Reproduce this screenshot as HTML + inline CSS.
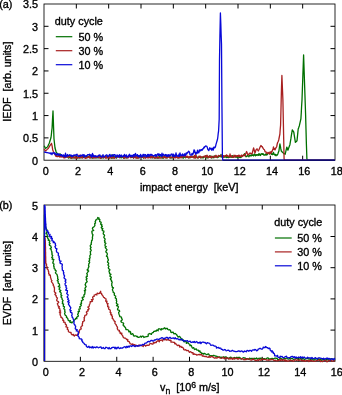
<!DOCTYPE html>
<html><head><meta charset="utf-8"><style>
html,body{margin:0;padding:0;background:#fff;width:342px;height:395px;overflow:hidden}
svg{display:block;will-change:transform}
text{font-family:"Liberation Sans", sans-serif;font-size:11.2px;fill:#000;stroke:#000;stroke-width:0.35px}
</style></head><body>
<svg width="342" height="395" viewBox="0 0 342 395">
<rect width="342" height="395" fill="#fff"/>
<rect x="44" y="4" width="291" height="156.2" fill="none" stroke="#000" stroke-width="0.85"/>
<line x1="76.33" y1="160.2" x2="76.33" y2="155.7" stroke="#000" stroke-width="1"/>
<line x1="76.33" y1="4" x2="76.33" y2="8.5" stroke="#000" stroke-width="1"/>
<line x1="108.67" y1="160.2" x2="108.67" y2="155.7" stroke="#000" stroke-width="1"/>
<line x1="108.67" y1="4" x2="108.67" y2="8.5" stroke="#000" stroke-width="1"/>
<line x1="141.00" y1="160.2" x2="141.00" y2="155.7" stroke="#000" stroke-width="1"/>
<line x1="141.00" y1="4" x2="141.00" y2="8.5" stroke="#000" stroke-width="1"/>
<line x1="173.33" y1="160.2" x2="173.33" y2="155.7" stroke="#000" stroke-width="1"/>
<line x1="173.33" y1="4" x2="173.33" y2="8.5" stroke="#000" stroke-width="1"/>
<line x1="205.67" y1="160.2" x2="205.67" y2="155.7" stroke="#000" stroke-width="1"/>
<line x1="205.67" y1="4" x2="205.67" y2="8.5" stroke="#000" stroke-width="1"/>
<line x1="238.00" y1="160.2" x2="238.00" y2="155.7" stroke="#000" stroke-width="1"/>
<line x1="238.00" y1="4" x2="238.00" y2="8.5" stroke="#000" stroke-width="1"/>
<line x1="270.33" y1="160.2" x2="270.33" y2="155.7" stroke="#000" stroke-width="1"/>
<line x1="270.33" y1="4" x2="270.33" y2="8.5" stroke="#000" stroke-width="1"/>
<line x1="302.67" y1="160.2" x2="302.67" y2="155.7" stroke="#000" stroke-width="1"/>
<line x1="302.67" y1="4" x2="302.67" y2="8.5" stroke="#000" stroke-width="1"/>
<line x1="44" y1="137.89" x2="48.5" y2="137.89" stroke="#000" stroke-width="1"/>
<line x1="335" y1="137.89" x2="330.5" y2="137.89" stroke="#000" stroke-width="1"/>
<line x1="44" y1="115.57" x2="48.5" y2="115.57" stroke="#000" stroke-width="1"/>
<line x1="335" y1="115.57" x2="330.5" y2="115.57" stroke="#000" stroke-width="1"/>
<line x1="44" y1="93.26" x2="48.5" y2="93.26" stroke="#000" stroke-width="1"/>
<line x1="335" y1="93.26" x2="330.5" y2="93.26" stroke="#000" stroke-width="1"/>
<line x1="44" y1="70.94" x2="48.5" y2="70.94" stroke="#000" stroke-width="1"/>
<line x1="335" y1="70.94" x2="330.5" y2="70.94" stroke="#000" stroke-width="1"/>
<line x1="44" y1="48.63" x2="48.5" y2="48.63" stroke="#000" stroke-width="1"/>
<line x1="335" y1="48.63" x2="330.5" y2="48.63" stroke="#000" stroke-width="1"/>
<line x1="44" y1="26.31" x2="48.5" y2="26.31" stroke="#000" stroke-width="1"/>
<line x1="335" y1="26.31" x2="330.5" y2="26.31" stroke="#000" stroke-width="1"/>
<text transform="translate(45.70,175.35) scale(0.966,1)" text-anchor="middle" >0</text>
<text transform="translate(78.03,175.35) scale(0.966,1)" text-anchor="middle" >2</text>
<text transform="translate(110.37,175.35) scale(0.966,1)" text-anchor="middle" >4</text>
<text transform="translate(142.70,175.35) scale(0.966,1)" text-anchor="middle" >6</text>
<text transform="translate(175.03,175.35) scale(0.966,1)" text-anchor="middle" >8</text>
<text transform="translate(207.37,175.35) scale(0.966,1)" text-anchor="middle" >10</text>
<text transform="translate(239.70,175.35) scale(0.966,1)" text-anchor="middle" >12</text>
<text transform="translate(272.03,175.35) scale(0.966,1)" text-anchor="middle" >14</text>
<text transform="translate(304.37,175.35) scale(0.966,1)" text-anchor="middle" >16</text>
<text transform="translate(336.70,175.35) scale(0.966,1)" text-anchor="middle" >18</text>
<text transform="translate(38.0,164.60) scale(0.966,1)" text-anchor="end" >0</text>
<text transform="translate(38.0,142.29) scale(0.966,1)" text-anchor="end" >0.5</text>
<text transform="translate(38.0,119.97) scale(0.966,1)" text-anchor="end" >1</text>
<text transform="translate(38.0,97.66) scale(0.966,1)" text-anchor="end" >1.5</text>
<text transform="translate(38.0,75.34) scale(0.966,1)" text-anchor="end" >2</text>
<text transform="translate(38.0,53.03) scale(0.966,1)" text-anchor="end" >2.5</text>
<text transform="translate(38.0,30.71) scale(0.966,1)" text-anchor="end" >3</text>
<text transform="translate(38.0,8.40) scale(0.966,1)" text-anchor="end" >3.5</text>
<text transform="translate(189.2,191.3) scale(0.966,1)" text-anchor="middle" >impact energy&#160;&#160;[keV]</text>
<text transform="translate(11.2,81.7) rotate(-90) scale(0.956,1)" text-anchor="middle">IEDF&#160;&#160;[arb. units]</text>
<text transform="translate(-0.8,8.4) scale(0.966,1)" text-anchor="start" >(a)</text>
<text transform="translate(54.8,24.8) scale(0.966,1)" text-anchor="start" >duty cycle</text>
<line x1="55.8" y1="36.7" x2="72.3" y2="36.7" stroke="#007000" stroke-width="1.2"/>
<text transform="translate(78.4,41.1) scale(0.966,1)" text-anchor="start" >50 %</text>
<line x1="55.8" y1="50.7" x2="72.3" y2="50.7" stroke="#a82020" stroke-width="1.2"/>
<text transform="translate(78.4,55.1) scale(0.966,1)" text-anchor="start" >30 %</text>
<line x1="55.8" y1="64.7" x2="72.3" y2="64.7" stroke="#0808d8" stroke-width="1.2"/>
<text transform="translate(78.4,69.1) scale(0.966,1)" text-anchor="start" >10 %</text>
<rect x="44" y="205.0" width="291" height="156.3" fill="none" stroke="#000" stroke-width="0.85"/>
<line x1="80.38" y1="361.3" x2="80.38" y2="356.8" stroke="#000" stroke-width="1"/>
<line x1="80.38" y1="205.0" x2="80.38" y2="209.5" stroke="#000" stroke-width="1"/>
<line x1="116.75" y1="361.3" x2="116.75" y2="356.8" stroke="#000" stroke-width="1"/>
<line x1="116.75" y1="205.0" x2="116.75" y2="209.5" stroke="#000" stroke-width="1"/>
<line x1="153.12" y1="361.3" x2="153.12" y2="356.8" stroke="#000" stroke-width="1"/>
<line x1="153.12" y1="205.0" x2="153.12" y2="209.5" stroke="#000" stroke-width="1"/>
<line x1="189.50" y1="361.3" x2="189.50" y2="356.8" stroke="#000" stroke-width="1"/>
<line x1="189.50" y1="205.0" x2="189.50" y2="209.5" stroke="#000" stroke-width="1"/>
<line x1="225.88" y1="361.3" x2="225.88" y2="356.8" stroke="#000" stroke-width="1"/>
<line x1="225.88" y1="205.0" x2="225.88" y2="209.5" stroke="#000" stroke-width="1"/>
<line x1="262.25" y1="361.3" x2="262.25" y2="356.8" stroke="#000" stroke-width="1"/>
<line x1="262.25" y1="205.0" x2="262.25" y2="209.5" stroke="#000" stroke-width="1"/>
<line x1="298.62" y1="361.3" x2="298.62" y2="356.8" stroke="#000" stroke-width="1"/>
<line x1="298.62" y1="205.0" x2="298.62" y2="209.5" stroke="#000" stroke-width="1"/>
<line x1="44" y1="330.10" x2="48.5" y2="330.10" stroke="#000" stroke-width="1"/>
<line x1="335" y1="330.10" x2="330.5" y2="330.10" stroke="#000" stroke-width="1"/>
<line x1="44" y1="298.90" x2="48.5" y2="298.90" stroke="#000" stroke-width="1"/>
<line x1="335" y1="298.90" x2="330.5" y2="298.90" stroke="#000" stroke-width="1"/>
<line x1="44" y1="267.70" x2="48.5" y2="267.70" stroke="#000" stroke-width="1"/>
<line x1="335" y1="267.70" x2="330.5" y2="267.70" stroke="#000" stroke-width="1"/>
<line x1="44" y1="236.50" x2="48.5" y2="236.50" stroke="#000" stroke-width="1"/>
<line x1="335" y1="236.50" x2="330.5" y2="236.50" stroke="#000" stroke-width="1"/>
<text transform="translate(45.70,376.35) scale(0.966,1)" text-anchor="middle" >0</text>
<text transform="translate(82.08,376.35) scale(0.966,1)" text-anchor="middle" >2</text>
<text transform="translate(118.45,376.35) scale(0.966,1)" text-anchor="middle" >4</text>
<text transform="translate(154.82,376.35) scale(0.966,1)" text-anchor="middle" >6</text>
<text transform="translate(191.20,376.35) scale(0.966,1)" text-anchor="middle" >8</text>
<text transform="translate(227.57,376.35) scale(0.966,1)" text-anchor="middle" >10</text>
<text transform="translate(263.95,376.35) scale(0.966,1)" text-anchor="middle" >12</text>
<text transform="translate(300.32,376.35) scale(0.966,1)" text-anchor="middle" >14</text>
<text transform="translate(336.70,376.35) scale(0.966,1)" text-anchor="middle" >16</text>
<text transform="translate(38.0,365.70) scale(0.966,1)" text-anchor="end" >0</text>
<text transform="translate(38.0,334.50) scale(0.966,1)" text-anchor="end" >1</text>
<text transform="translate(38.0,303.30) scale(0.966,1)" text-anchor="end" >2</text>
<text transform="translate(38.0,272.10) scale(0.966,1)" text-anchor="end" >3</text>
<text transform="translate(38.0,240.90) scale(0.966,1)" text-anchor="end" >4</text>
<text transform="translate(38.0,209.70) scale(0.966,1)" text-anchor="end" >5</text>
<text transform="translate(160,391.2) scale(0.966,1)">v<tspan font-size="9" dy="2.6">n</tspan><tspan dy="-2.6">&#160;&#160;[10</tspan><tspan font-size="9" dy="-3.6">6</tspan><tspan dy="3.6"> m/s]</tspan></text>
<text transform="translate(11.3,283.2) rotate(-90) scale(0.956,1)" text-anchor="middle">EVDF&#160;&#160;[arb. units]</text>
<text transform="translate(-0.8,209.2) scale(0.966,1)" text-anchor="start" >(b)</text>
<text transform="translate(274.2,226.3) scale(0.966,1)" text-anchor="start" >duty cycle</text>
<line x1="274.9" y1="238.0" x2="291.7" y2="238.0" stroke="#007000" stroke-width="1.2"/>
<text transform="translate(297.2,242.1) scale(0.966,1)" text-anchor="start" >50 %</text>
<line x1="274.9" y1="251.9" x2="291.7" y2="251.9" stroke="#a82020" stroke-width="1.2"/>
<text transform="translate(297.2,256.0) scale(0.966,1)" text-anchor="start" >30 %</text>
<line x1="274.9" y1="265.8" x2="291.7" y2="265.8" stroke="#0808d8" stroke-width="1.2"/>
<text transform="translate(297.2,269.9) scale(0.966,1)" text-anchor="start" >10 %</text>
<polyline fill="none" stroke="#007000" stroke-width="1.3" stroke-linejoin="round" points="44.2,145.8 44.7,146.7 45.1,147.5 45.6,148.4 46.0,148.0 46.5,147.6 46.9,147.3 47.4,146.9 47.8,146.5 48.2,145.5 48.6,144.5 49.1,143.5 49.5,142.5 50.0,140.8 50.5,139.2 51.0,137.5 51.4,134.3 51.7,131.2 52.1,128.0 52.5,119.5 53.0,111.0 53.3,119.5 53.6,128.0 54.0,139.0 54.5,143.5 55.0,148.0 55.4,149.3 55.8,150.7 56.2,152.0 56.6,152.7 57.1,153.3 57.5,154.0 58.0,154.4 58.5,155.8 59.0,154.9 59.5,155.6 60.0,153.7 60.5,155.3 61.0,154.7 61.5,155.9 62.0,156.1 62.5,156.5 63.0,156.3 63.5,156.9 64.0,155.9 64.5,157.4 65.0,155.6 65.5,157.1 66.0,156.6 66.5,156.9 67.0,156.1 67.5,156.3 68.0,157.6 68.5,158.1 69.0,156.7 69.5,154.8 70.0,158.0 70.5,158.1 71.0,156.3 71.5,156.2 72.0,156.5 72.5,158.0 73.0,156.3 73.5,157.0 74.0,158.2 74.5,157.3 75.0,157.6 75.5,156.8 76.0,157.6 76.5,157.9 77.0,157.3 77.5,157.7 78.0,158.3 78.5,157.1 79.0,156.7 79.5,157.8 80.0,156.3 80.5,157.1 81.0,158.1 81.5,156.7 82.0,156.7 82.5,156.4 83.0,156.0 83.5,157.6 84.0,156.5 84.5,156.7 85.0,157.2 85.5,156.2 86.0,157.3 86.5,156.4 87.0,157.4 87.5,157.6 88.0,156.3 88.5,157.0 89.0,157.6 89.5,155.3 90.0,156.2 90.5,157.2 91.0,157.5 91.5,157.2 92.0,158.1 92.5,157.4 93.0,158.1 93.5,156.4 94.0,156.4 94.5,157.8 95.0,156.9 95.5,157.4 96.0,158.1 96.5,156.8 97.0,157.7 97.5,157.7 98.0,158.0 98.5,157.4 99.0,157.7 99.5,156.8 100.0,156.6 100.5,158.0 101.0,157.0 101.5,158.2 102.0,155.8 102.5,157.6 103.0,156.4 103.5,158.1 104.0,157.0 104.5,157.3 105.0,156.9 105.5,156.6 106.0,158.0 106.5,157.3 107.0,156.0 107.5,157.4 108.0,156.8 108.5,156.5 109.0,158.0 109.5,156.8 110.0,158.0 110.5,157.4 111.0,156.1 111.5,158.1 112.0,154.6 112.5,158.2 113.0,156.4 113.5,156.3 114.0,158.1 114.5,157.6 115.0,156.2 115.5,157.7 116.0,157.7 116.5,158.1 117.0,157.6 117.5,156.3 118.0,156.1 118.5,156.1 119.0,156.1 119.5,157.0 120.0,157.9 120.5,157.2 121.0,155.9 121.5,157.9 122.0,156.3 122.5,156.6 123.0,157.3 123.5,158.2 124.0,155.4 124.5,156.1 125.0,157.8 125.5,156.5 126.0,157.8 126.5,156.9 127.0,157.9 127.5,157.7 128.0,157.2 128.5,156.3 129.0,156.1 129.5,156.3 130.0,156.1 130.5,156.2 131.0,156.5 131.5,157.6 132.0,157.2 132.5,156.0 133.0,156.2 133.5,158.1 134.0,157.3 134.5,156.4 135.0,156.6 135.5,157.6 136.0,156.4 136.5,157.3 137.0,158.1 137.5,157.9 138.0,156.5 138.5,156.1 139.0,155.9 139.5,157.8 140.0,156.3 140.5,156.3 141.0,156.1 141.5,157.1 142.0,157.3 142.5,157.2 143.0,156.7 143.5,158.2 144.0,157.3 144.5,156.8 145.0,157.2 145.5,157.6 146.0,157.5 146.5,156.6 147.0,156.1 147.5,156.8 148.0,157.4 148.5,156.4 149.0,157.6 149.5,156.1 150.0,156.5 150.5,157.7 151.0,156.4 151.5,157.4 152.0,157.1 152.5,158.0 153.0,156.6 153.5,156.1 154.0,157.6 154.5,157.7 155.0,158.0 155.5,158.0 156.0,156.0 156.5,156.5 157.0,158.2 157.5,158.1 158.0,158.1 158.5,157.2 159.0,158.0 159.5,155.8 160.0,156.8 160.5,157.0 161.0,157.3 161.5,157.2 162.0,158.0 162.5,158.0 163.0,157.4 163.5,158.1 164.0,156.3 164.5,156.2 165.0,156.6 165.5,157.1 166.0,157.8 166.5,158.0 167.0,157.8 167.5,156.0 168.0,155.8 168.5,156.7 169.0,156.2 169.5,157.7 170.0,156.7 170.5,158.0 171.0,157.2 171.5,157.9 172.0,157.8 172.5,157.9 173.0,157.0 173.5,157.1 174.0,155.4 174.5,156.6 175.0,157.0 175.5,157.3 176.0,156.0 176.5,157.2 177.0,156.9 177.5,157.7 178.0,157.9 178.5,157.9 179.0,157.2 179.5,156.3 180.0,157.7 180.5,157.3 181.0,156.0 181.5,156.9 182.0,157.4 182.5,157.9 183.0,155.9 183.5,158.1 184.0,156.8 184.5,154.6 185.0,157.3 185.5,157.7 186.0,157.2 186.5,157.3 187.0,156.5 187.5,157.2 188.0,157.6 188.5,157.8 189.0,157.6 189.5,157.5 190.0,157.8 190.5,156.6 191.0,157.4 191.5,156.9 192.0,156.8 192.5,156.8 193.0,156.8 193.5,156.6 194.0,157.3 194.5,156.9 195.0,158.1 195.5,157.4 196.0,156.3 196.5,156.8 197.0,156.7 197.5,157.7 198.0,157.8 198.5,157.9 199.0,157.4 199.5,156.5 200.0,156.5 200.5,157.8 201.0,157.0 201.5,157.6 202.0,157.1 202.5,157.5 203.0,158.0 203.5,157.6 204.0,157.1 204.5,156.9 205.0,156.6 205.5,156.0 206.0,156.7 206.5,156.0 207.0,158.0 207.5,156.2 208.0,157.6 208.5,157.7 209.0,156.4 209.5,157.0 210.0,155.7 210.5,156.8 211.0,156.5 211.5,158.0 212.0,157.1 212.5,156.4 213.0,157.8 213.5,157.7 214.0,156.3 214.5,156.0 215.0,156.1 215.5,156.8 216.0,157.3 216.5,156.2 217.0,156.2 217.5,157.6 218.0,156.6 218.5,157.0 219.0,156.2 219.5,155.9 220.0,156.8 220.5,156.7 221.0,154.4 221.5,157.0 222.0,156.1 222.5,157.1 223.0,155.9 223.5,157.3 224.0,156.1 224.5,156.7 225.0,157.3 225.5,155.6 226.0,156.3 226.5,157.5 227.0,157.4 227.5,156.7 228.0,157.5 228.5,157.6 229.0,157.4 229.5,157.4 230.0,155.7 230.5,157.0 231.0,157.1 231.5,156.8 232.0,157.3 232.5,155.6 233.0,157.2 233.5,157.1 234.0,156.0 234.5,156.0 235.0,156.9 235.5,156.2 236.0,157.2 236.5,156.4 237.0,157.2 237.5,157.6 238.0,156.1 238.5,155.7 239.0,157.4 239.5,156.6 240.0,157.5 240.5,156.8 241.0,157.5 241.5,156.5 242.0,156.4 242.5,155.5 243.0,155.9 243.5,155.2 244.0,155.4 244.5,153.6 245.0,155.1 245.5,155.7 246.0,156.8 246.5,156.4 247.0,156.3 247.5,155.2 248.0,155.7 248.5,156.0 249.0,156.8 249.5,155.1 250.0,155.1 250.5,155.1 251.0,156.1 251.5,155.4 252.0,154.5 252.5,155.4 253.0,154.9 253.5,155.9 254.0,154.7 254.5,154.0 255.0,155.2 255.5,155.7 256.0,154.6 256.5,155.3 257.0,154.7 257.5,154.7 258.0,155.5 258.5,155.2 259.0,153.5 259.5,155.0 260.0,154.4 260.5,155.5 261.0,153.9 261.5,154.0 262.0,153.6 262.5,154.3 263.0,153.6 263.5,154.8 264.0,155.2 264.5,154.9 265.0,155.0 265.5,154.0 266.0,155.1 266.5,154.1 267.0,154.9 267.5,154.4 268.0,153.3 268.5,153.1 269.0,152.9 269.5,153.0 270.0,153.8 270.5,153.0 271.0,152.8 271.5,154.4 272.0,153.7 272.5,154.6 273.0,154.0 273.5,152.3 274.0,154.3 274.5,154.2 275.0,155.2 275.5,154.4 276.0,155.8 276.4,154.8 276.9,154.9 277.4,155.0 277.9,153.7 278.4,152.3 278.9,151.0 279.4,147.5 279.9,144.0 280.4,146.3 280.8,148.7 281.3,151.0 281.8,151.5 282.2,152.0 282.7,152.4 283.1,152.9 283.6,153.4 284.0,153.6 284.4,153.8 284.8,154.0 285.2,154.2 285.6,152.4 286.0,150.6 286.4,148.9 286.8,147.1 287.2,148.1 287.5,149.2 287.9,150.2 288.4,148.8 288.9,147.4 289.4,146.1 289.9,144.7 290.4,141.7 290.9,138.7 291.3,135.8 291.8,132.8 292.3,129.8 292.8,130.6 293.3,131.4 293.8,132.2 294.2,134.8 294.6,137.3 295.0,139.8 295.4,142.4 295.8,142.0 296.2,141.6 296.6,141.2 297.0,140.8 297.4,136.9 297.8,132.9 298.2,129.0 298.6,128.0 298.9,126.9 299.3,125.9 299.7,124.1 300.1,122.3 300.5,120.6 300.9,118.8 301.3,112.5 301.6,106.3 302.0,100.0 302.4,88.7 302.8,77.5 303.2,66.2 303.6,54.9 304.1,69.9 304.6,85.0 305.1,100.0 305.6,114.7 306.0,129.4 306.4,144.2 306.9,158.9 307.2,159.5 307.5,160.1 308.0,160.1 308.5,160.1 309.0,160.1 309.5,160.1 310.0,160.1 310.5,160.1 311.0,160.1 311.5,160.1 312.0,160.1 312.5,160.1 313.0,160.1 313.5,160.1 314.0,160.1 314.5,160.1 315.0,160.1 315.5,160.1 316.0,160.1 316.5,160.1 317.0,160.1 317.5,160.1 318.0,160.1 318.5,160.1 319.0,160.1 319.5,160.1 320.0,160.1 320.5,160.1 321.0,160.1 321.5,160.1 322.0,160.1 322.5,160.1 323.0,160.1 323.5,160.1 324.0,160.1 324.5,160.1 325.0,160.1 325.5,160.1 326.0,160.1 326.5,160.1 327.0,160.1 327.5,160.1 328.0,160.1 328.5,160.1 329.0,160.1 329.5,160.1 330.0,160.1 330.5,160.1 331.0,160.1 331.5,160.1 332.0,160.1 332.5,160.1 333.0,160.1 333.5,160.1 334.0,160.1 334.5,160.1 335.0,160.1"/>
<polyline fill="none" stroke="#a82020" stroke-width="1.3" stroke-linejoin="round" points="44.2,149.0 44.6,149.7 45.1,150.3 45.5,151.0 46.0,150.5 46.5,150.1 47.0,149.6 47.4,149.1 47.9,148.7 48.4,148.2 48.9,147.4 49.3,146.7 49.8,145.9 50.3,145.2 50.7,144.6 51.1,144.0 51.5,143.4 51.8,144.6 52.1,145.8 52.4,147.9 52.7,150.0 53.1,150.8 53.5,151.7 53.9,152.5 54.3,153.3 54.7,154.1 55.2,154.9 55.6,155.7 56.0,156.4 56.5,155.5 57.0,156.7 57.5,156.5 58.0,156.5 58.5,155.4 59.0,156.0 59.5,157.0 60.0,156.3 60.5,156.3 61.0,157.1 61.5,156.9 62.0,156.1 62.5,156.9 63.0,156.3 63.5,157.6 64.0,157.8 64.5,157.0 65.0,157.9 65.5,154.6 66.0,157.2 66.5,156.2 67.0,157.0 67.5,156.4 68.0,156.5 68.5,157.5 69.0,156.7 69.5,156.5 70.0,156.8 70.5,157.1 71.0,157.3 71.5,158.4 72.0,157.7 72.5,157.4 73.0,157.4 73.5,157.1 74.0,158.0 74.5,157.6 75.0,156.6 75.5,157.8 76.0,158.4 76.5,157.4 77.0,158.2 77.5,157.0 78.0,157.5 78.5,157.2 79.0,155.1 79.5,158.0 80.0,157.4 80.5,155.1 81.0,157.5 81.5,156.4 82.0,157.1 82.5,158.1 83.0,157.2 83.5,156.3 84.0,156.8 84.5,156.4 85.0,158.4 85.5,158.4 86.0,158.3 86.5,157.6 87.0,157.9 87.5,156.6 88.0,156.9 88.5,157.4 89.0,157.0 89.5,156.3 90.0,158.4 90.5,157.2 91.0,157.3 91.5,156.6 92.0,156.8 92.5,157.1 93.0,158.1 93.5,157.8 94.0,157.1 94.5,156.3 95.0,158.0 95.5,156.8 96.0,157.5 96.5,156.3 97.0,157.7 97.5,157.1 98.0,157.3 98.5,155.4 99.0,157.0 99.5,157.4 100.0,158.3 100.5,158.4 101.0,156.9 101.5,156.3 102.0,157.8 102.5,157.6 103.0,156.7 103.5,157.1 104.0,157.6 104.5,157.6 105.0,156.6 105.5,158.1 106.0,157.9 106.5,156.5 107.0,158.1 107.5,157.8 108.0,157.9 108.5,157.4 109.0,156.7 109.5,158.2 110.0,157.5 110.5,156.9 111.0,156.8 111.5,158.2 112.0,155.9 112.5,157.4 113.0,157.5 113.5,158.0 114.0,157.5 114.5,158.2 115.0,157.5 115.5,157.2 116.0,157.4 116.5,157.7 117.0,156.7 117.5,156.6 118.0,156.4 118.5,156.8 119.0,156.2 119.5,157.5 120.0,156.8 120.5,156.6 121.0,156.4 121.5,156.8 122.0,156.6 122.5,156.8 123.0,157.2 123.5,156.4 124.0,158.0 124.5,158.3 125.0,156.2 125.5,156.6 126.0,157.5 126.5,156.5 127.0,158.0 127.5,156.6 128.0,157.8 128.5,157.6 129.0,156.0 129.5,156.2 130.0,156.6 130.5,157.7 131.0,156.8 131.5,156.2 132.0,156.9 132.5,157.4 133.0,156.2 133.5,158.1 134.0,156.2 134.5,157.0 135.0,157.6 135.5,156.5 136.0,158.0 136.5,157.0 137.0,158.3 137.5,156.7 138.0,157.4 138.5,158.2 139.0,157.1 139.5,156.5 140.0,157.0 140.5,157.1 141.0,157.2 141.5,157.2 142.0,156.2 142.5,157.2 143.0,156.0 143.5,157.6 144.0,157.8 144.5,157.8 145.0,157.2 145.5,158.2 146.0,156.8 146.5,157.1 147.0,157.7 147.5,157.9 148.0,157.0 148.5,157.9 149.0,157.0 149.5,157.6 150.0,156.1 150.5,156.1 151.0,158.1 151.5,156.3 152.0,157.5 152.5,156.7 153.0,156.5 153.5,156.9 154.0,158.1 154.5,157.3 155.0,158.1 155.5,157.6 156.0,157.1 156.5,157.8 157.0,156.5 157.5,158.0 158.0,156.9 158.5,157.3 159.0,158.0 159.5,157.5 160.0,157.9 160.5,158.1 161.0,158.1 161.5,157.8 162.0,156.3 162.5,156.8 163.0,156.5 163.5,157.9 164.0,157.8 164.5,156.8 165.0,157.3 165.5,157.8 166.0,157.8 166.5,156.5 167.0,157.6 167.5,157.8 168.0,156.1 168.5,156.2 169.0,157.0 169.5,156.6 170.0,157.9 170.5,157.6 171.0,157.6 171.5,157.7 172.0,156.7 172.5,156.5 173.0,157.4 173.5,157.2 174.0,158.0 174.5,157.4 175.0,156.8 175.5,157.9 176.0,156.8 176.5,156.4 177.0,157.7 177.5,157.8 178.0,157.1 178.5,157.5 179.0,158.1 179.5,156.5 180.0,157.7 180.5,157.6 181.0,156.2 181.5,157.8 182.0,156.9 182.5,156.2 183.0,157.1 183.5,155.9 184.0,156.3 184.5,156.1 185.0,156.4 185.5,156.9 186.0,157.4 186.5,156.1 187.0,157.5 187.5,156.2 188.0,156.3 188.5,157.5 189.0,157.9 189.5,156.7 190.0,157.4 190.5,157.0 191.0,156.1 191.5,157.2 192.0,156.3 192.5,157.1 193.0,157.3 193.5,157.8 194.0,156.6 194.5,155.3 195.0,158.1 195.5,157.7 196.0,154.9 196.5,157.5 197.0,157.8 197.5,158.0 198.0,157.8 198.5,157.3 199.0,156.1 199.5,157.3 200.0,156.7 200.5,156.3 201.0,157.8 201.5,157.7 202.0,157.0 202.5,156.9 203.0,156.9 203.5,156.4 204.0,156.7 204.5,156.7 205.0,155.8 205.5,157.7 206.0,155.8 206.5,156.6 207.0,155.2 207.5,156.1 208.0,157.8 208.5,156.5 209.0,157.3 209.5,155.9 210.0,156.2 210.5,157.6 211.0,157.6 211.5,156.2 212.0,157.7 212.5,157.1 213.0,156.7 213.5,156.4 214.0,156.3 214.5,157.6 215.0,157.1 215.5,155.7 216.0,155.3 216.5,156.7 217.0,157.5 217.5,156.7 218.0,156.2 218.5,155.4 219.0,156.0 219.5,156.0 220.0,155.8 220.5,156.1 221.0,155.8 221.5,155.5 222.0,155.6 222.5,156.4 223.0,155.5 223.5,157.4 224.0,155.8 224.5,156.3 225.0,156.2 225.5,155.9 226.0,156.0 226.5,154.8 227.0,155.8 227.5,155.5 228.0,156.7 228.5,156.6 229.0,155.9 229.5,157.1 230.0,154.0 230.5,156.5 231.0,156.3 231.5,155.8 232.0,157.1 232.5,157.0 233.0,156.9 233.5,157.2 234.0,155.1 234.5,156.1 235.0,157.1 235.5,155.3 236.0,155.5 236.5,156.1 237.0,156.5 237.5,155.7 238.0,155.6 238.5,156.6 239.0,155.0 239.5,156.6 240.0,155.8 240.5,156.2 241.0,156.4 241.5,155.0 242.0,156.7 242.5,156.5 243.0,155.4 243.5,155.0 244.0,154.6 244.5,155.1 245.0,156.0 245.4,154.5 245.8,153.5 246.2,152.5 246.6,151.5 247.1,152.7 247.5,153.8 248.0,155.0 248.5,154.5 249.0,154.0 249.5,153.5 250.0,153.0 250.5,153.2 251.0,153.5 251.5,153.8 252.0,154.0 252.4,152.5 252.8,151.0 253.2,149.5 253.6,148.0 254.1,149.7 254.5,151.3 255.0,153.0 255.5,151.5 256.0,150.0 256.5,149.4 257.0,148.8 257.4,149.5 257.9,150.3 258.3,151.0 258.7,150.1 259.2,149.2 259.6,148.2 260.0,147.3 260.5,146.4 260.9,145.5 261.3,146.0 261.7,146.5 262.2,146.6 262.6,147.4 263.0,148.2 263.5,149.0 264.0,149.4 264.5,149.9 265.0,151.6 265.5,151.9 266.0,151.8 266.5,153.3 267.0,153.6 267.5,153.2 268.0,152.5 268.5,152.6 269.0,153.5 269.5,154.0 270.0,152.0 270.4,153.2 270.9,153.5 271.3,151.5 271.7,152.1 272.1,151.4 272.6,150.0 273.0,148.9 273.5,146.9 274.0,149.4 274.5,148.7 275.0,149.9 275.4,148.9 275.9,147.9 276.3,147.4 276.7,146.5 277.2,144.0 277.7,142.3 278.2,141.5 278.7,140.0 279.1,138.0 279.5,136.0 279.9,134.0 280.2,129.5 280.6,125.0 280.9,112.5 281.2,100.0 281.5,87.8 281.9,75.5 282.4,87.8 282.9,100.0 283.3,119.6 283.7,139.3 284.1,158.9 284.5,160.1 285.0,160.1 285.5,160.1 286.0,160.1 286.5,160.1 287.0,160.1 287.5,160.1 288.0,160.1 288.5,160.1 289.0,160.1 289.5,160.1 290.0,160.1 290.5,160.1 291.0,160.1 291.5,160.1 292.0,160.1 292.5,160.1 293.0,160.1 293.5,160.1 294.0,160.1 294.5,160.1 295.0,160.1 295.5,160.1 296.0,160.1 296.5,160.1 297.0,160.1 297.5,160.1 298.0,160.1 298.5,160.1 299.0,160.1 299.5,160.1 300.0,160.1 300.5,160.1 301.0,160.1 301.5,160.1 302.0,160.1 302.5,160.1 303.0,160.1 303.5,160.1 304.0,160.1 304.5,160.1 305.0,160.1 305.5,160.1 306.0,160.1 306.5,160.1 307.0,160.1 307.5,160.1 308.0,160.1 308.5,160.1 309.0,160.1 309.5,160.1 310.0,160.1 310.5,160.1 311.0,160.1 311.5,160.1 312.0,160.1 312.5,160.1 313.0,160.1 313.5,160.1 314.0,160.1 314.5,160.1 315.0,160.1 315.5,160.1 316.0,160.1 316.5,160.1 317.0,160.1 317.5,160.1 318.0,160.1 318.5,160.1 319.0,160.1 319.5,160.1 320.0,160.1 320.5,160.1 321.0,160.1 321.5,160.1 322.0,160.1 322.5,160.1 323.0,160.1 323.5,160.1 324.0,160.1 324.5,160.1 325.0,160.1 325.5,160.1 326.0,160.1 326.5,160.1 327.0,160.1 327.5,160.1 328.0,160.1 328.5,160.1 329.0,160.1 329.5,160.1 330.0,160.1 330.5,160.1 331.0,160.1 331.5,160.1 332.0,160.1 332.5,160.1 333.0,160.1 333.5,160.1 334.0,160.1 334.5,160.1 335.0,160.1"/>
<polyline fill="none" stroke="#0808d8" stroke-width="1.3" stroke-linejoin="round" points="44.0,152.0 44.5,152.1 45.0,152.2 45.5,152.3 46.0,152.4 46.5,152.5 47.0,152.6 47.5,152.7 48.0,152.8 48.5,152.9 49.0,153.0 49.5,153.1 50.0,153.3 50.5,153.9 51.0,152.8 51.5,153.5 52.0,154.7 52.5,152.8 53.0,152.8 53.5,153.1 54.0,152.8 54.5,153.9 55.0,152.9 55.5,154.1 56.0,154.8 56.5,153.9 57.0,155.1 57.5,154.9 58.0,153.5 58.5,155.1 59.0,154.1 59.5,154.9 60.0,154.6 60.5,155.8 61.0,155.2 61.5,154.6 62.0,155.7 62.5,156.4 63.0,155.1 63.5,154.9 64.0,155.3 64.5,156.8 65.0,156.9 65.5,153.2 66.0,156.7 66.5,156.6 67.0,155.3 67.5,154.5 68.0,156.0 68.5,155.8 69.0,155.3 69.5,154.9 70.0,155.4 70.5,155.6 71.0,155.0 71.5,156.5 72.0,155.5 72.5,156.6 73.0,155.9 73.5,155.1 74.0,155.1 74.5,155.5 75.0,154.9 75.5,154.9 76.0,155.7 76.5,154.6 77.0,154.2 77.5,155.3 78.0,156.2 78.5,156.4 79.0,156.2 79.5,156.2 80.0,155.4 80.5,156.1 81.0,155.3 81.5,155.9 82.0,155.2 82.5,155.6 83.0,154.5 83.5,155.0 84.0,157.0 84.5,155.0 85.0,156.2 85.5,156.1 86.0,156.3 86.5,155.7 87.0,156.0 87.5,154.6 88.0,154.6 88.5,154.9 89.0,154.8 89.5,154.2 90.0,154.7 90.5,155.9 91.0,154.9 91.5,157.0 92.0,156.2 92.5,153.3 93.0,156.3 93.5,155.1 94.0,156.9 94.5,155.9 95.0,156.4 95.5,155.7 96.0,156.7 96.5,156.4 97.0,156.2 97.5,156.9 98.0,156.1 98.5,155.4 99.0,155.9 99.5,155.0 100.0,155.0 100.5,156.4 101.0,156.6 101.5,157.1 102.0,156.8 102.5,155.9 103.0,154.7 103.5,156.7 104.0,157.0 104.5,156.6 105.0,155.8 105.5,155.7 106.0,155.1 106.5,155.0 107.0,155.0 107.5,156.9 108.0,156.2 108.5,156.3 109.0,155.6 109.5,154.6 110.0,154.5 110.5,156.5 111.0,156.3 111.5,155.8 112.0,155.3 112.5,156.3 113.0,154.7 113.5,155.7 114.0,154.7 114.5,154.7 115.0,154.7 115.5,157.1 116.0,156.0 116.5,156.8 117.0,155.0 117.5,155.2 118.0,156.4 118.5,157.0 119.0,155.5 119.5,154.7 120.0,156.9 120.5,155.3 121.0,156.5 121.5,155.0 122.0,156.4 122.5,156.8 123.0,156.5 123.5,155.5 124.0,156.5 124.5,154.4 125.0,155.3 125.5,155.6 126.0,156.9 126.5,154.9 127.0,156.9 127.5,156.6 128.0,157.1 128.5,155.5 129.0,155.0 129.5,154.3 130.0,156.7 130.5,155.3 131.0,156.3 131.5,155.7 132.0,155.2 132.5,156.7 133.0,156.8 133.5,154.7 134.0,155.0 134.5,154.4 135.0,156.7 135.5,153.4 136.0,155.1 136.5,155.5 137.0,155.8 137.5,154.6 138.0,156.6 138.5,155.8 139.0,156.5 139.5,155.7 140.0,157.0 140.5,154.3 141.0,155.3 141.5,156.9 142.0,156.2 142.5,156.6 143.0,154.4 143.5,154.5 144.0,156.3 144.5,155.1 145.0,154.5 145.5,154.7 146.0,156.9 146.5,155.6 147.0,156.5 147.5,154.5 148.0,155.6 148.5,154.4 149.0,156.6 149.5,155.5 150.0,154.4 150.5,154.5 151.0,155.7 151.5,154.4 152.0,154.7 152.5,155.4 153.0,155.6 153.5,155.8 154.0,155.9 154.5,155.2 155.0,155.9 155.5,154.6 156.0,154.9 156.5,156.3 157.0,154.6 157.5,154.8 158.0,153.6 158.5,155.5 159.0,154.2 159.5,154.2 160.0,155.4 160.5,154.6 161.0,156.0 161.5,156.3 162.0,153.1 162.5,156.0 163.0,155.2 163.5,154.2 164.0,155.3 164.5,155.1 165.0,155.7 165.5,154.5 166.0,154.7 166.5,156.3 167.0,154.8 167.5,155.3 168.0,156.6 168.5,154.8 169.0,154.5 169.5,156.0 170.0,155.6 170.5,155.7 171.0,154.2 171.5,154.4 172.0,154.0 172.5,156.3 173.0,155.9 173.5,154.2 174.0,154.8 174.5,156.7 175.0,156.6 175.5,155.3 176.0,152.8 176.5,155.7 177.0,155.2 177.5,156.3 178.0,155.9 178.5,156.2 179.0,154.1 179.5,156.3 180.0,152.8 180.5,155.1 181.0,155.6 181.5,155.0 182.0,155.8 182.5,153.9 182.9,154.9 183.4,155.8 183.9,155.9 184.4,153.9 184.9,154.0 185.4,155.7 185.9,154.1 186.3,152.8 186.8,154.0 187.2,152.6 187.7,152.9 188.2,151.7 188.6,151.2 189.1,151.8 189.6,152.3 190.0,154.8 190.5,155.0 191.0,155.1 191.5,155.2 192.0,153.3 192.5,154.9 193.0,154.1 193.5,152.5 194.0,149.9 194.5,150.2 194.9,152.9 195.4,152.3 195.8,154.3 196.2,152.8 196.7,152.2 197.1,153.3 197.5,150.1 198.0,152.7 198.4,152.6 198.9,152.8 199.3,150.0 199.8,151.2 200.3,149.8 200.8,150.6 201.2,149.9 201.7,149.7 202.1,150.2 202.6,148.8 203.0,148.8 203.4,148.9 203.9,147.1 204.3,147.7 204.8,146.6 205.2,146.5 205.7,145.9 206.1,146.2 206.6,146.1 207.0,146.6 207.4,147.9 207.9,149.7 208.3,149.9 208.8,150.6 209.3,149.0 209.8,147.7 210.3,148.7 210.7,149.1 211.2,148.3 211.6,150.2 212.0,149.9 212.5,148.4 212.9,148.1 213.3,150.2 213.8,147.1 214.2,147.2 214.6,147.8 215.1,147.6 215.5,146.6 216.0,144.4 216.5,142.6 217.0,141.0 217.5,139.3 217.9,136.5 218.2,133.6 218.6,130.8 218.9,124.9 219.2,119.0 219.5,60.0 219.9,36.5 220.4,13.0 220.8,23.3 221.1,33.7 221.5,44.0 221.9,100.2 222.4,156.4 222.8,160.1 223.3,160.1 223.8,160.1 224.3,160.1 224.8,160.1 225.3,160.1 225.8,160.1 226.3,160.1 226.8,160.1 227.3,160.1 227.8,160.1 228.3,160.1 228.8,160.1 229.3,160.1 229.8,160.1 230.3,160.1 230.8,160.1 231.3,160.1 231.8,160.1 232.3,160.1 232.8,160.1 233.3,160.1 233.8,160.1 234.3,160.1 234.8,160.1 235.3,160.1 235.8,160.1 236.3,160.1 236.8,160.1 237.3,160.1 237.8,160.1 238.3,160.1 238.8,160.1 239.3,160.1 239.8,160.1 240.3,160.1 240.8,160.1 241.3,160.1 241.7,160.1 242.2,160.1 242.7,160.1 243.2,160.1 243.7,160.1 244.2,160.1 244.7,160.1 245.2,160.1 245.7,160.1 246.2,160.1 246.7,160.1 247.2,160.1 247.7,160.1 248.2,160.1 248.7,160.1 249.2,160.1 249.7,160.1 250.2,160.1 250.7,160.1 251.2,160.1 251.7,160.1 252.2,160.1 252.7,160.1 253.2,160.1 253.7,160.1 254.2,160.1 254.7,160.1 255.2,160.1 255.7,160.1 256.2,160.1 256.7,160.1 257.2,160.1 257.7,160.1 258.2,160.1 258.7,160.1 259.2,160.1 259.7,160.1 260.2,160.1 260.7,160.1 261.2,160.1 261.7,160.1 262.2,160.1 262.7,160.1 263.2,160.1 263.7,160.1 264.2,160.1 264.7,160.1 265.2,160.1 265.7,160.1 266.2,160.1 266.7,160.1 267.2,160.1 267.7,160.1 268.2,160.1 268.7,160.1 269.2,160.1 269.7,160.1 270.2,160.1 270.7,160.1 271.2,160.1 271.7,160.1 272.2,160.1 272.7,160.1 273.2,160.1 273.7,160.1 274.2,160.1 274.7,160.1 275.2,160.1 275.7,160.1 276.2,160.1 276.7,160.1 277.2,160.1 277.7,160.1 278.2,160.1 278.7,160.1 279.1,160.1 279.6,160.1 280.1,160.1 280.6,160.1 281.1,160.1 281.6,160.1 282.1,160.1 282.6,160.1 283.1,160.1 283.6,160.1 284.1,160.1 284.6,160.1 285.1,160.1 285.6,160.1 286.1,160.1 286.6,160.1 287.1,160.1 287.6,160.1 288.1,160.1 288.6,160.1 289.1,160.1 289.6,160.1 290.1,160.1 290.6,160.1 291.1,160.1 291.6,160.1 292.1,160.1 292.6,160.1 293.1,160.1 293.6,160.1 294.1,160.1 294.6,160.1 295.1,160.1 295.6,160.1 296.1,160.1 296.6,160.1 297.1,160.1 297.6,160.1 298.1,160.1 298.6,160.1 299.1,160.1 299.6,160.1 300.1,160.1 300.6,160.1 301.1,160.1 301.6,160.1 302.1,160.1 302.6,160.1 303.1,160.1 303.6,160.1 304.1,160.1 304.6,160.1 305.1,160.1 305.6,160.1 306.1,160.1 306.6,160.1 307.1,160.1 307.6,160.1 308.1,160.1 308.6,160.1 309.1,160.1 309.6,160.1 310.1,160.1 310.6,160.1 311.1,160.1 311.6,160.1 312.1,160.1 312.6,160.1 313.1,160.1 313.6,160.1 314.1,160.1 314.6,160.1 315.1,160.1 315.6,160.1 316.1,160.1 316.5,160.1 317.0,160.1 317.5,160.1 318.0,160.1 318.5,160.1 319.0,160.1 319.5,160.1 320.0,160.1 320.5,160.1 321.0,160.1 321.5,160.1 322.0,160.1 322.5,160.1 323.0,160.1 323.5,160.1 324.0,160.1 324.5,160.1 325.0,160.1 325.5,160.1 326.0,160.1 326.5,160.1 327.0,160.1 327.5,160.1 328.0,160.1 328.5,160.1 329.0,160.1 329.5,160.1 330.0,160.1 330.5,160.1 331.0,160.1 331.5,160.1 332.0,160.1 332.5,160.1 333.0,160.1 333.5,160.1 334.0,160.1 334.5,160.1 335.0,160.1"/>
<line x1="223.2" y1="160.2" x2="335" y2="160.2" stroke="#0a0a5a" stroke-width="1.1"/>
<polyline fill="none" stroke="#007000" stroke-width="1.3" stroke-linejoin="round" points="44.5,361.0 44.5,360.1 44.5,359.2 44.5,358.3 44.5,357.4 44.5,356.5 44.5,355.6 44.5,354.7 44.5,353.8 44.5,352.9 44.5,352.0 44.5,351.1 44.5,350.3 44.5,349.4 44.5,348.5 44.5,347.6 44.5,346.7 44.5,345.8 44.5,344.9 44.5,344.0 44.5,343.1 44.5,342.2 44.5,341.3 44.5,340.4 44.5,339.5 44.5,338.6 44.5,337.7 44.5,336.8 44.5,335.9 44.5,335.0 44.5,334.1 44.5,333.2 44.5,332.3 44.5,331.4 44.5,330.5 44.5,329.7 44.5,328.8 44.5,327.9 44.5,327.0 44.5,326.1 44.5,325.2 44.5,324.3 44.5,323.4 44.5,322.5 44.5,321.6 44.5,320.7 44.5,319.8 44.5,318.9 44.5,318.0 44.5,317.1 44.5,316.2 44.5,315.3 44.5,314.4 44.5,313.5 44.5,312.6 44.5,311.7 44.5,310.8 44.5,309.9 44.5,309.0 44.5,308.2 44.5,307.3 44.5,306.4 44.5,305.5 44.5,304.6 44.5,303.7 44.5,302.8 44.5,301.9 44.5,301.0 44.5,300.1 44.5,299.2 44.5,298.3 44.5,297.4 44.5,296.5 44.5,295.6 44.5,294.7 44.5,293.8 44.5,292.9 44.5,292.0 44.5,291.1 44.5,290.2 44.5,289.3 44.5,288.4 44.5,287.6 44.5,286.7 44.5,285.8 44.5,284.9 44.5,284.0 44.5,283.1 44.5,282.2 44.5,281.3 44.5,280.4 44.5,279.5 44.5,278.6 44.5,277.7 44.5,276.8 44.5,275.9 44.5,275.0 44.5,274.1 44.5,273.2 44.5,272.3 44.5,271.4 44.5,270.5 44.5,269.6 44.5,268.7 44.5,267.8 44.5,267.0 44.5,266.1 44.5,265.2 44.5,264.3 44.5,263.4 44.5,262.5 44.5,261.6 44.5,260.7 44.5,259.8 44.5,258.9 44.5,258.0 44.5,257.1 44.5,256.2 44.5,255.3 44.5,254.4 44.5,253.5 44.5,252.6 44.5,251.7 44.5,250.8 44.5,249.9 44.5,249.0 44.5,248.1 44.5,247.2 44.5,246.3 44.5,245.5 44.5,244.6 44.5,243.7 44.5,242.8 44.5,241.9 44.5,241.0 44.5,240.1 44.5,239.2 44.5,238.3 44.5,237.4 44.5,236.5 44.5,235.6 44.5,234.7 44.5,233.8 44.5,232.9 44.5,232.0 44.5,231.1 44.5,230.2 44.5,229.3 44.5,228.4 44.5,227.5 44.5,226.6 44.5,225.7 44.5,224.9 44.5,224.0 44.5,223.1 44.5,222.2 44.5,221.3 44.5,220.4 44.5,219.5 44.5,218.6 44.5,217.7 44.5,216.8 44.5,215.9 44.5,215.0 44.6,215.9 44.7,216.8 44.8,217.7 44.9,218.6 45.0,219.5 45.1,220.4 45.2,221.2 45.3,222.1 45.3,223.0 45.4,223.9 45.5,224.8 45.6,225.7 45.7,226.6 45.8,227.4 46.0,228.3 46.5,229.1 47.0,229.9 46.6,230.8 47.4,231.5 46.6,232.5 46.1,233.5 47.1,234.2 47.1,235.1 47.4,236.0 47.1,237.0 47.7,237.7 47.8,238.6 48.9,239.2 48.2,240.3 49.8,240.8 49.7,241.8 49.2,242.7 50.1,243.5 49.3,244.5 49.5,245.4 50.9,246.0 50.9,246.9 51.4,247.7 50.1,248.8 51.2,249.5 51.3,250.4 51.6,251.3 52.1,252.1 51.7,253.0 52.2,253.8 51.9,254.8 52.7,255.5 52.3,256.5 51.7,257.5 52.9,258.1 52.1,259.2 53.9,259.7 53.2,260.7 53.3,261.6 52.8,262.6 53.1,263.4 54.0,264.1 53.8,265.1 53.6,266.0 54.2,266.8 54.0,267.7 54.2,268.6 55.2,269.2 55.1,270.2 56.2,270.8 55.9,271.8 55.4,272.8 56.1,273.6 56.8,274.3 57.3,275.1 57.3,276.0 57.7,276.8 57.7,277.7 57.6,278.7 58.4,279.4 57.2,280.6 58.2,281.3 58.1,282.2 58.2,283.1 59.2,283.7 59.5,284.6 59.6,285.5 58.3,286.6 60.0,287.1 59.7,288.1 59.0,289.1 59.7,289.9 60.9,290.5 59.6,291.7 60.6,292.3 61.2,293.1 61.1,294.0 60.8,295.0 61.9,295.6 61.0,296.7 61.3,297.5 62.1,298.2 62.0,299.1 62.5,299.9 63.1,300.7 62.3,301.8 62.7,302.6 62.3,303.6 63.6,304.2 63.4,305.2 63.2,306.2 64.5,306.8 64.2,307.8 63.8,308.8 64.8,309.5 64.8,310.4 64.7,311.4 65.2,312.2 64.6,313.3 64.8,314.1 65.1,315.0 66.0,315.7 66.6,316.4 66.4,317.4 67.3,317.8 67.7,318.5 68.0,319.3 68.2,320.3 68.9,320.8 70.4,320.6 69.8,322.1 70.7,322.5 71.5,322.1 71.9,323.0 72.4,322.1 73.1,321.7 73.7,321.2 73.8,320.1 74.6,319.8 75.3,319.4 75.5,318.4 76.9,318.7 76.6,317.6 77.1,316.8 78.2,316.3 78.3,315.4 77.6,314.3 78.1,313.5 78.6,312.8 78.1,311.7 79.5,311.3 79.0,310.2 78.9,309.2 80.2,308.8 80.2,307.8 79.6,306.8 80.7,306.2 81.3,305.4 80.3,304.2 81.6,303.7 81.1,302.6 81.7,301.9 81.3,300.8 82.3,300.2 83.3,299.6 82.4,298.4 82.2,297.4 83.8,297.0 84.2,296.2 83.7,295.1 84.6,294.4 84.9,293.6 84.8,292.7 85.2,291.9 84.3,290.7 85.7,290.1 85.1,289.1 85.0,288.2 85.6,287.4 86.2,286.6 85.6,285.6 85.1,284.7 85.6,283.9 85.7,283.0 86.6,282.3 87.2,281.5 86.6,280.5 86.2,279.5 87.1,278.8 86.2,277.8 86.2,276.9 87.4,276.2 87.0,275.2 87.3,274.4 86.7,273.4 87.5,272.6 87.9,271.8 88.7,271.0 87.1,269.9 88.1,269.2 88.1,268.3 88.5,267.4 89.0,266.6 88.5,265.7 88.8,264.8 88.7,263.9 89.4,263.1 89.7,262.3 88.8,261.3 89.6,260.5 89.6,259.6 89.2,258.7 90.1,257.9 90.0,257.0 89.8,256.1 90.0,255.2 90.8,254.5 90.4,253.5 90.5,252.6 90.2,251.7 91.0,250.9 91.3,250.1 90.3,249.1 90.4,248.3 91.1,247.5 90.5,246.7 90.2,245.8 90.6,245.0 91.4,244.3 91.1,243.4 91.4,242.6 91.6,241.7 91.5,240.8 92.4,240.1 92.2,239.2 92.6,238.3 92.3,237.4 92.6,236.6 92.6,235.7 93.1,234.9 92.1,233.8 92.2,233.0 91.8,232.0 92.0,231.2 93.7,230.5 92.9,229.6 92.4,228.5 92.7,227.6 93.7,227.0 94.3,226.3 94.9,225.6 94.8,224.6 94.7,223.6 95.6,223.0 95.0,221.8 95.6,221.1 95.6,220.1 96.8,219.7 97.1,219.0 97.5,218.3 97.8,217.5 98.5,217.9 99.2,218.1 98.6,219.2 99.9,219.7 99.6,220.8 99.7,221.7 101.0,222.2 101.2,223.0 100.5,224.2 101.9,224.6 101.5,225.6 102.4,226.2 101.2,227.5 101.6,228.2 102.9,228.7 102.1,229.9 102.5,230.6 103.9,231.1 103.8,232.1 103.2,233.1 103.3,234.0 104.1,234.7 104.6,235.5 104.1,236.5 103.8,237.4 104.4,238.2 105.1,239.0 105.0,239.9 104.4,240.9 105.1,241.7 104.7,242.6 105.9,243.3 105.1,244.3 105.0,245.1 105.0,246.0 106.2,246.6 105.2,247.6 105.9,248.4 106.5,249.1 107.1,249.9 106.1,250.9 105.8,251.9 106.6,252.6 107.2,253.4 107.3,254.3 107.1,255.2 106.4,256.2 107.5,256.9 107.7,257.8 107.7,258.7 108.3,259.5 108.3,260.4 107.6,261.4 107.5,262.3 108.6,263.0 108.6,263.9 107.9,264.9 108.4,265.7 109.0,266.5 108.3,267.5 108.5,268.4 109.4,269.2 110.0,269.9 109.0,271.0 109.1,271.9 109.6,272.7 109.5,273.6 111.0,274.3 110.1,275.3 109.9,276.2 111.0,276.9 111.4,277.7 110.3,278.8 110.6,279.6 111.6,280.3 111.4,281.2 112.2,281.9 112.1,282.8 111.7,283.8 111.8,284.6 111.7,285.5 112.3,286.3 112.2,287.2 113.5,287.8 112.7,288.8 112.4,289.7 112.7,290.5 113.1,291.3 113.1,292.2 114.1,292.9 114.5,293.7 114.2,294.6 114.5,295.5 115.7,296.0 115.5,297.0 115.2,298.0 116.3,298.6 116.5,299.4 116.2,300.4 116.8,301.1 116.5,302.1 116.3,303.0 116.9,303.8 117.9,304.4 116.5,305.7 117.9,306.2 118.5,306.9 118.0,308.0 117.5,309.0 117.7,309.9 119.3,310.4 119.7,311.2 118.6,312.4 118.8,313.3 119.0,314.2 119.4,315.0 119.6,315.8 119.9,316.7 121.5,317.1 121.5,318.1 122.0,318.9 122.3,319.7 120.9,321.0 121.1,321.9 122.1,322.5 123.2,322.9 123.7,323.6 123.1,325.1 123.5,325.8 124.5,326.2 124.8,327.1 125.5,327.7 125.8,328.5 125.9,329.5 127.2,329.7 128.2,330.0 128.7,330.4 128.8,331.8 130.1,331.5 130.7,332.1 130.5,333.7 131.2,334.3 132.8,333.7 133.2,334.4 133.5,335.9 134.3,336.0 135.2,335.8 136.0,335.8 136.6,336.5 137.5,336.3 138.0,337.4 138.9,337.3 139.8,337.0 140.6,336.1 141.4,337.2 142.2,336.1 143.1,336.2 143.9,337.5 144.7,336.9 145.5,336.9 146.5,336.7 147.4,336.5 148.2,336.2 148.2,334.3 149.0,333.9 149.8,333.5 151.4,334.4 151.8,333.3 152.4,332.6 153.3,332.6 153.7,331.4 154.7,331.4 155.4,330.9 156.4,331.1 156.8,329.9 158.1,330.8 158.4,329.0 159.2,328.9 160.0,328.8 161.1,330.1 161.6,328.6 162.6,329.1 163.3,328.9 164.0,328.2 164.8,327.8 165.3,329.0 166.6,328.3 167.4,328.5 167.8,329.5 168.7,329.8 169.6,329.7 170.4,330.2 170.7,331.3 170.9,332.4 171.9,332.5 173.1,332.2 173.6,333.0 174.0,333.9 175.3,333.5 175.9,334.2 176.7,334.5 177.0,335.6 177.7,336.2 178.0,337.1 179.6,336.4 180.2,337.1 180.7,337.8 181.3,338.5 182.1,338.8 182.1,340.3 183.5,339.9 183.6,341.2 184.1,341.8 185.6,341.4 186.4,341.8 186.3,343.3 187.9,342.7 188.5,343.4 189.0,344.0 189.9,344.3 189.9,345.7 191.3,345.4 191.6,346.3 192.0,347.3 192.5,348.0 193.8,347.7 194.1,348.8 194.8,349.5 196.1,348.8 196.5,349.9 197.4,350.2 198.4,350.1 198.8,351.3 200.0,351.0 200.2,352.3 201.1,352.5 201.6,353.5 202.7,353.3 203.4,354.1 204.4,353.4 205.2,353.8 206.0,354.3 206.8,354.6 207.8,354.1 208.7,353.9 209.3,355.2 210.1,355.5 210.8,355.9 211.8,355.6 212.5,356.2 213.6,355.3 214.4,355.7 215.2,356.0 216.0,356.1 216.9,356.3 217.6,356.9 218.5,357.4 219.4,356.9 220.3,357.4 221.2,357.2 222.0,357.5 222.9,357.4 223.9,356.7 224.6,358.0 225.6,356.9 226.5,357.2 227.3,357.7 228.1,358.1 229.0,358.6 230.0,357.3 230.9,357.2 231.7,358.2 232.6,358.2 233.5,358.5 234.4,357.5 235.2,358.6 236.2,357.4 237.1,357.5 237.9,357.6 238.8,357.5 239.7,357.4 240.6,358.5 241.5,359.1 242.4,358.2 243.3,357.7 244.2,358.0 245.1,357.9 245.9,358.8 246.8,358.6 247.7,358.7 248.6,359.3 249.5,358.1 250.4,358.7 251.3,358.3 252.2,359.0 253.0,358.3 253.9,359.1 254.8,358.2 255.7,358.9 256.6,358.0 257.5,359.0 258.4,358.6 259.3,358.1 260.1,359.0 261.0,357.9 261.9,359.0 262.8,359.1 263.7,358.7 264.6,358.7 265.4,359.1 266.3,358.8 267.2,357.9 268.1,357.9 269.0,359.5 269.9,358.7 270.8,359.0 271.7,358.5 272.5,358.5 273.4,359.1 274.3,358.4 275.2,358.0 276.1,358.5 277.0,358.1 277.8,359.6 278.7,359.4 279.6,359.0 280.5,358.0 281.4,358.7 282.3,359.5 283.2,359.0 284.1,358.6 284.9,358.6 285.8,358.3 286.7,358.0 287.6,358.9 288.5,359.2 289.4,358.4 290.3,359.1 291.1,358.7 292.0,358.2 292.9,359.0 293.8,359.5 294.7,359.1 295.6,358.8 296.5,358.1 297.3,358.5 298.2,359.2 299.1,359.3 300.0,358.7 300.9,358.5 301.8,359.5 302.7,358.3 303.6,358.9 304.5,359.3 305.4,359.1 306.3,358.3 307.2,358.6 308.1,358.6 309.0,359.2 309.9,358.7 310.8,359.7 311.7,358.5 312.6,359.1 313.4,360.0 314.3,360.1 315.3,359.0 316.2,358.8 317.1,358.5 317.9,359.8 318.9,358.7 319.7,360.3 320.6,359.1 321.5,360.3 322.4,359.9 323.3,359.4 324.2,359.2 325.1,359.9 326.0,360.4 326.9,359.2 327.8,359.9 328.7,359.5 329.6,358.8 330.5,358.9 331.4,358.9 332.3,358.9 333.2,359.4 334.1,360.3 335.0,360.6"/>
<polyline fill="none" stroke="#a82020" stroke-width="1.3" stroke-linejoin="round" points="44.5,361.0 44.5,360.1 44.5,359.2 44.5,358.3 44.5,357.4 44.5,356.5 44.5,355.6 44.5,354.7 44.5,353.8 44.5,352.9 44.5,352.0 44.5,351.1 44.5,350.2 44.5,349.3 44.5,348.4 44.5,347.5 44.5,346.6 44.5,345.7 44.5,344.8 44.5,343.9 44.5,343.0 44.5,342.1 44.5,341.2 44.5,340.3 44.5,339.4 44.5,338.5 44.5,337.6 44.5,336.7 44.5,335.8 44.5,334.9 44.5,334.0 44.5,333.1 44.5,332.2 44.5,331.3 44.5,330.4 44.5,329.5 44.5,328.6 44.5,327.7 44.5,326.8 44.5,325.9 44.5,325.0 44.5,324.1 44.5,323.2 44.5,322.3 44.5,321.4 44.5,320.5 44.5,319.6 44.5,318.7 44.5,317.8 44.5,316.9 44.5,316.0 44.5,315.1 44.5,314.2 44.5,313.3 44.5,312.4 44.5,311.5 44.5,310.6 44.5,309.7 44.5,308.8 44.5,307.9 44.5,307.0 44.5,306.1 44.5,305.2 44.5,304.3 44.5,303.4 44.5,302.5 44.5,301.6 44.5,300.7 44.5,299.8 44.5,298.9 44.5,298.1 44.5,297.2 44.5,296.3 44.5,295.4 44.5,294.5 44.5,293.6 44.5,292.7 44.5,291.8 44.5,290.9 44.5,290.0 44.5,289.1 44.5,288.2 44.5,287.3 44.5,286.4 44.5,285.5 44.5,284.6 44.5,283.7 44.5,282.8 44.5,281.9 44.5,281.0 44.5,280.1 44.5,279.2 44.5,278.3 44.5,277.4 44.5,276.5 44.5,275.6 44.5,274.7 44.5,273.8 44.5,272.9 44.5,272.0 44.5,271.1 44.5,270.2 44.5,269.3 44.5,268.4 44.5,267.5 44.5,266.6 44.5,265.7 44.5,264.8 44.5,263.9 44.5,263.0 44.5,262.1 44.5,261.2 44.5,260.3 44.5,259.4 44.5,258.5 44.5,257.6 44.5,256.7 44.5,255.8 44.5,254.9 44.5,254.0 44.5,253.1 44.5,252.2 44.5,251.3 44.5,250.4 44.5,249.5 44.5,248.6 44.5,247.7 44.5,246.8 44.5,245.9 44.5,245.0 44.5,244.1 44.5,243.2 44.5,242.3 44.5,241.4 44.5,240.5 44.5,239.6 44.5,238.7 44.5,237.8 44.5,236.9 44.5,236.0 44.7,236.8 44.8,237.6 45.0,238.4 45.1,239.2 45.3,240.0 45.3,240.9 45.3,241.8 45.4,242.6 45.4,243.5 45.4,244.4 45.4,245.3 45.4,246.1 45.5,247.0 45.5,247.9 45.5,248.8 45.5,249.6 45.5,250.5 45.5,251.4 45.6,252.3 45.6,253.2 45.6,254.0 45.6,254.9 45.6,255.8 45.7,256.7 45.7,257.5 45.7,258.4 45.7,259.3 45.7,260.2 45.8,261.0 45.8,261.9 45.8,262.8 46.0,263.6 46.6,264.2 46.4,265.1 46.6,265.8 47.0,266.6 47.0,267.3 47.1,268.1 47.2,268.9 47.9,269.5 48.3,270.2 48.3,271.1 48.8,271.8 48.7,272.5 48.6,273.5 49.2,274.0 49.1,275.0 50.2,275.0 50.4,275.8 50.5,276.7 50.5,277.5 50.9,278.3 51.1,279.1 51.3,279.9 52.0,280.6 51.4,281.6 51.9,282.4 52.6,283.1 52.9,283.9 53.4,284.6 53.2,285.5 54.0,286.2 54.0,287.1 54.5,287.9 54.4,288.9 54.5,289.8 54.4,290.7 54.3,291.7 54.9,292.4 55.9,293.0 54.9,294.3 55.5,295.0 56.2,295.8 56.2,296.7 56.7,297.5 57.5,298.1 57.0,299.2 56.6,300.2 57.2,301.0 58.4,301.6 58.7,302.5 57.4,303.6 57.6,304.5 58.1,305.3 58.2,306.1 59.5,306.8 58.5,307.9 59.7,308.5 60.0,309.4 59.7,310.3 60.6,311.1 59.3,312.2 60.7,312.9 59.8,313.9 60.3,314.7 60.4,315.7 61.0,316.4 60.9,317.4 62.2,317.8 62.4,318.7 63.1,319.3 62.8,320.4 63.9,320.9 63.5,322.1 65.1,322.3 65.2,323.2 65.3,324.1 66.2,324.6 66.5,325.5 65.9,326.8 67.1,327.2 67.8,327.8 67.2,329.1 68.1,329.7 68.4,330.5 68.4,331.5 69.1,332.1 70.2,332.4 71.0,332.4 71.1,333.6 71.6,334.3 72.1,334.8 73.4,334.3 73.6,335.4 74.3,336.1 75.2,334.9 75.9,335.1 76.5,335.4 77.2,334.8 78.3,334.5 78.1,333.3 79.1,332.9 79.2,331.9 79.4,331.0 79.6,330.1 80.1,329.4 81.3,329.0 80.8,327.7 81.0,327.0 81.4,326.2 82.5,325.6 82.3,324.6 82.3,323.7 82.8,322.9 82.6,321.9 83.5,321.3 84.5,320.7 84.1,319.7 84.4,318.8 84.0,317.7 84.7,317.1 84.7,316.1 84.9,315.3 86.6,314.9 86.7,314.0 87.1,313.3 86.3,312.1 86.9,311.4 88.2,310.9 87.6,309.8 88.8,309.3 89.1,308.5 87.8,307.1 88.8,306.6 89.3,305.9 89.3,304.9 89.7,304.2 90.0,303.4 90.2,302.6 90.2,301.7 91.7,301.6 92.5,301.1 91.4,299.6 93.1,299.6 93.0,298.6 92.6,297.4 93.1,296.7 94.2,296.4 94.1,295.1 95.0,294.9 95.5,294.4 96.9,295.0 96.9,293.8 97.3,293.1 98.6,293.7 99.4,293.4 99.9,292.6 100.7,291.3 100.4,293.0 101.6,293.3 101.6,294.4 102.2,295.0 102.8,295.7 103.2,296.5 103.6,297.3 104.6,297.7 105.0,298.5 106.0,298.9 106.0,299.9 105.6,301.1 107.0,301.2 106.6,302.4 106.8,303.2 108.1,303.7 107.4,304.9 107.9,305.7 107.6,306.7 108.9,307.2 108.5,308.2 108.7,309.1 109.8,309.7 110.3,310.5 110.3,311.4 110.1,312.4 111.1,312.9 110.5,314.2 111.8,314.6 111.3,315.7 112.4,316.2 112.4,317.2 112.1,318.2 113.1,318.8 113.2,319.7 114.0,320.3 114.2,321.2 115.2,321.7 114.8,322.9 115.2,323.6 115.8,324.3 116.3,325.0 116.5,325.9 117.1,326.6 117.5,327.4 117.3,328.6 117.7,329.4 118.2,330.2 119.4,330.4 119.2,331.7 120.2,332.1 120.1,333.3 121.9,333.1 121.4,334.5 122.2,335.1 122.8,335.8 122.9,336.8 123.6,337.5 124.2,338.1 125.5,338.1 126.1,338.7 126.5,339.6 127.8,339.4 127.6,341.1 128.5,341.4 129.3,341.8 129.7,342.6 130.0,343.6 130.9,344.0 131.8,344.4 132.9,343.9 133.4,345.4 134.6,344.6 135.2,345.7 136.2,345.2 137.1,345.7 137.8,346.3 139.0,345.0 139.8,345.6 140.6,345.6 141.3,345.3 142.2,345.7 143.2,346.5 143.9,345.2 144.7,344.8 145.7,346.2 146.4,345.3 147.3,345.1 148.2,345.3 149.1,345.2 149.5,344.0 150.3,343.6 151.2,343.7 152.2,344.1 153.1,344.0 153.4,342.4 154.5,343.0 155.1,342.3 156.2,342.7 156.6,341.4 157.4,341.2 158.1,340.5 159.3,341.8 159.8,340.3 160.6,340.3 161.4,340.0 162.6,341.0 163.0,339.3 163.9,339.5 164.8,339.9 165.8,339.1 166.5,340.0 167.4,339.9 168.4,339.3 169.1,340.5 170.1,340.1 171.0,340.4 170.9,342.0 171.8,342.2 172.8,342.1 173.7,342.3 174.7,342.3 174.7,343.8 175.8,343.6 176.3,344.4 176.9,345.0 177.5,345.6 178.7,345.2 179.5,345.5 179.5,347.0 180.9,346.3 181.3,347.3 182.3,347.2 182.9,347.9 183.6,348.3 183.7,349.7 184.6,350.0 185.8,349.6 186.3,350.5 187.1,350.7 188.2,350.5 188.8,351.3 189.3,352.3 190.6,351.7 191.3,352.2 191.9,352.8 193.0,352.6 193.2,354.3 194.3,353.8 195.0,354.4 195.9,354.3 196.6,355.0 197.5,354.9 198.4,354.6 199.3,354.3 200.1,355.0 201.0,354.4 201.8,354.7 202.4,356.2 203.3,355.8 204.1,356.4 204.9,356.5 205.8,356.3 206.6,356.7 207.4,357.2 208.3,357.3 209.3,356.2 210.0,357.5 210.9,356.8 211.8,356.4 212.6,356.9 213.4,357.3 214.2,358.0 215.0,358.1 215.9,357.6 216.7,358.2 217.7,357.7 218.6,357.0 219.5,357.6 220.3,358.2 221.2,358.3 222.1,358.2 223.0,357.1 223.9,358.4 224.7,358.9 225.7,357.6 226.5,358.6 227.4,357.7 228.3,358.8 229.1,359.1 230.1,357.9 230.9,359.1 231.8,358.2 232.7,359.3 233.6,357.8 234.4,359.1 235.4,358.2 236.3,358.6 237.2,358.2 238.0,359.4 238.9,358.4 239.8,358.7 240.7,358.8 241.6,358.7 242.5,358.7 243.3,359.7 244.2,359.4 245.1,359.8 246.0,358.8 246.8,359.5 247.8,358.7 248.7,358.8 249.5,359.5 250.4,359.8 251.3,360.0 252.2,359.8 253.1,358.9 253.9,359.5 254.8,360.1 255.7,360.5 256.6,360.5 257.5,359.7 258.3,360.6 259.3,359.3 260.1,360.0 261.0,360.3 261.9,358.9 262.8,359.1 263.7,359.6 264.6,359.4 265.5,359.3 266.3,360.0 267.2,360.2 268.1,359.9 269.0,360.3 269.9,359.7 270.8,359.8 271.7,359.4 272.5,359.5 273.4,360.0 274.3,360.7 275.2,360.1 276.1,360.8 276.9,360.9 277.8,360.6 278.7,360.7 279.6,359.3 280.5,360.6 281.4,359.4 282.3,360.7 283.2,360.1 284.1,359.5 284.9,361.1 285.8,359.8 286.7,361.2 287.6,360.9 288.5,361.1 289.4,360.6 290.3,360.1 291.1,360.8 292.0,360.4 292.9,360.9 293.8,361.3 294.7,359.7 295.6,359.9 296.5,360.4 297.4,359.7 298.2,360.3 299.1,360.4 300.0,360.0 300.9,359.8 301.8,360.9 302.7,360.2 303.6,361.0 304.5,360.5 305.4,361.4 306.3,360.3 307.2,360.8 308.1,360.3 309.0,361.5 309.9,360.3 310.8,361.0 311.7,360.5 312.6,361.1 313.5,361.0 314.4,361.3 315.3,361.0 316.2,360.7 317.1,360.7 318.0,360.2 318.9,360.1 319.8,360.2 320.6,361.6 321.5,361.2 322.4,361.6 323.3,361.1 324.2,360.4 325.1,360.0 326.0,361.0 326.9,361.8 327.8,361.4 328.7,360.2 329.6,360.7 330.5,360.3 331.4,360.5 332.3,361.3 333.2,360.7 334.1,361.0 335.0,360.6"/>
<polyline fill="none" stroke="#0808d8" stroke-width="1.3" stroke-linejoin="round" points="44.5,361.0 44.5,360.1 44.5,359.2 44.5,358.3 44.5,357.4 44.5,356.5 44.5,355.6 44.5,354.7 44.5,353.8 44.5,352.9 44.5,352.0 44.5,351.1 44.5,350.2 44.5,349.3 44.5,348.4 44.5,347.5 44.5,346.6 44.5,345.7 44.5,344.8 44.5,343.9 44.5,343.0 44.5,342.1 44.5,341.2 44.5,340.3 44.5,339.4 44.5,338.5 44.5,337.6 44.5,336.7 44.5,335.8 44.5,334.9 44.5,334.0 44.5,333.1 44.5,332.2 44.5,331.3 44.5,330.4 44.5,329.5 44.5,328.6 44.5,327.7 44.5,326.8 44.5,325.9 44.5,325.0 44.5,324.1 44.5,323.2 44.5,322.3 44.5,321.4 44.5,320.5 44.5,319.6 44.5,318.7 44.5,317.8 44.5,316.9 44.5,316.0 44.5,315.1 44.5,314.2 44.5,313.3 44.5,312.4 44.5,311.5 44.5,310.6 44.5,309.7 44.5,308.8 44.5,307.9 44.5,307.0 44.5,306.1 44.5,305.2 44.5,304.3 44.5,303.4 44.5,302.5 44.5,301.6 44.5,300.7 44.5,299.8 44.5,298.9 44.5,298.0 44.5,297.1 44.5,296.2 44.5,295.3 44.5,294.4 44.5,293.5 44.5,292.6 44.5,291.7 44.5,290.8 44.5,289.9 44.5,289.0 44.5,288.1 44.5,287.2 44.5,286.3 44.5,285.4 44.5,284.5 44.5,283.6 44.5,282.7 44.5,281.8 44.5,280.9 44.5,280.0 44.5,279.1 44.5,278.2 44.5,277.3 44.5,276.4 44.5,275.5 44.5,274.6 44.5,273.7 44.5,272.8 44.5,271.9 44.5,271.0 44.5,270.1 44.5,269.2 44.5,268.3 44.5,267.4 44.5,266.5 44.5,265.6 44.5,264.7 44.5,263.8 44.5,262.9 44.5,262.0 44.5,261.1 44.5,260.2 44.5,259.3 44.5,258.4 44.5,257.5 44.5,256.6 44.5,255.7 44.5,254.8 44.5,253.9 44.5,253.0 44.5,252.1 44.5,251.2 44.5,250.3 44.5,249.4 44.5,248.5 44.5,247.6 44.5,246.7 44.5,245.8 44.5,244.9 44.5,244.0 44.5,243.1 44.5,242.2 44.5,241.3 44.5,240.4 44.5,239.5 44.5,238.6 44.5,237.7 44.5,236.8 44.5,235.9 44.5,235.0 44.5,234.1 44.5,233.2 44.5,232.3 44.5,231.4 44.5,230.5 44.5,229.6 44.5,228.7 44.5,227.8 44.5,226.9 44.5,226.0 44.5,225.1 44.5,224.2 44.5,223.3 44.5,222.4 44.5,221.5 44.5,220.6 44.5,219.7 44.5,218.8 44.5,217.9 44.5,217.0 44.5,216.1 44.5,215.2 44.5,214.3 44.5,213.4 44.5,212.5 44.5,211.6 44.5,210.7 44.5,209.8 44.5,208.9 44.5,208.0 44.5,207.1 44.5,206.2 44.5,205.3 45.0,206.0 45.0,206.8 45.1,207.6 45.1,208.5 45.1,209.3 45.1,210.1 45.2,210.9 45.2,211.7 45.2,212.5 45.2,213.4 45.3,214.2 45.3,215.0 45.3,215.9 45.4,216.8 45.4,217.6 45.5,218.5 45.5,219.4 45.5,220.2 45.6,221.1 45.6,222.0 45.7,222.9 45.8,223.7 45.9,224.6 45.7,225.5 45.8,226.3 45.9,227.2 46.2,228.0 46.0,229.0 46.2,229.8 46.8,230.6 47.9,230.9 47.6,232.1 48.7,232.4 48.2,233.6 49.0,234.1 50.1,234.4 49.2,235.8 50.2,235.9 49.8,236.8 51.5,236.5 51.7,237.3 50.9,238.5 52.4,238.7 52.0,239.7 51.9,240.7 53.0,241.0 53.8,241.5 53.2,242.7 54.7,242.4 54.9,243.1 55.5,243.7 55.3,244.7 55.8,245.5 54.9,246.7 55.4,247.5 55.7,248.3 57.0,248.8 56.5,249.9 56.4,250.9 56.6,251.8 57.3,252.5 58.3,253.1 58.5,253.9 58.2,254.9 58.3,255.8 59.2,256.4 58.9,257.4 59.4,258.2 59.1,259.2 59.6,259.9 59.5,260.8 61.1,261.1 60.0,262.3 60.1,263.1 61.0,263.7 62.2,264.2 62.4,265.0 62.0,266.0 62.1,266.8 62.3,267.7 62.2,268.6 62.3,269.5 62.4,270.3 63.5,270.9 63.2,271.9 63.9,272.6 63.5,273.6 63.9,274.4 64.0,275.2 64.6,276.0 64.3,276.9 64.0,277.8 64.6,278.6 65.6,279.2 65.9,280.0 65.0,281.1 65.7,281.8 65.9,282.6 65.0,283.6 65.1,284.4 65.3,285.2 66.3,285.9 65.9,286.8 66.1,287.6 66.8,288.3 66.3,289.2 65.7,290.1 67.5,290.7 67.3,291.6 67.3,292.5 66.6,293.4 67.4,294.2 68.2,294.9 67.9,295.8 67.1,296.8 67.4,297.6 68.3,298.3 67.7,299.2 68.5,299.9 69.0,300.7 67.7,301.8 69.2,302.4 68.7,303.3 68.4,304.3 69.0,305.0 69.6,305.7 69.8,306.5 70.6,307.2 70.8,308.0 70.3,309.0 69.7,310.0 71.2,310.5 70.3,311.6 70.7,312.4 72.0,312.9 72.0,313.8 72.1,314.7 71.6,315.7 72.2,316.4 72.1,317.3 73.0,318.0 73.1,318.8 73.5,319.6 74.1,320.3 73.8,321.3 74.1,322.1 73.9,323.2 74.0,324.0 74.9,324.7 74.9,325.6 75.7,326.3 75.5,327.3 75.2,328.4 75.6,329.2 77.2,329.6 76.2,330.9 78.0,331.2 78.3,332.0 78.4,333.0 78.5,333.9 77.6,335.2 78.0,336.0 78.6,336.7 79.2,337.5 79.3,338.6 80.4,338.8 81.4,339.0 82.0,339.5 81.7,340.9 82.6,341.2 82.7,342.2 83.3,342.8 84.0,343.3 84.5,344.1 85.2,344.6 86.2,344.9 86.3,346.1 86.8,346.8 87.8,347.4 88.9,346.2 89.7,347.8 90.6,347.1 91.4,347.8 92.3,346.5 93.1,348.1 94.0,347.0 94.9,347.3 95.7,347.8 96.6,346.8 97.5,347.1 98.3,347.8 99.2,347.5 100.0,347.1 100.9,346.9 101.7,348.5 102.5,348.2 103.3,347.5 104.2,348.6 105.0,348.7 105.8,347.2 106.7,347.5 107.5,348.0 108.3,348.7 109.2,347.5 110.0,348.8 110.8,348.7 111.7,347.7 112.5,347.5 113.3,347.4 114.2,347.2 115.0,348.8 115.8,347.3 116.7,348.8 117.5,347.6 118.3,347.1 119.2,348.5 120.0,348.4 120.8,347.7 121.7,348.2 122.6,348.0 123.3,347.4 124.1,347.0 124.9,346.7 125.9,347.9 126.6,346.3 127.6,347.4 128.3,346.1 129.2,347.1 129.9,345.9 130.8,345.9 131.7,346.5 132.4,345.6 133.2,345.3 134.3,346.3 135.2,346.5 135.9,345.6 136.9,346.1 137.7,345.7 138.6,346.0 139.5,345.9 140.2,345.0 141.2,345.5 142.0,344.9 142.7,344.3 143.8,344.9 144.4,344.0 145.0,343.1 145.8,343.1 146.6,342.8 147.2,342.1 147.9,341.6 148.6,341.3 149.8,342.0 150.3,341.0 151.0,340.5 151.8,340.3 153.0,341.1 153.8,340.9 154.4,339.9 155.3,340.1 156.0,339.5 156.8,339.1 157.7,339.1 158.6,339.5 159.4,339.2 160.2,338.4 161.1,338.1 162.0,337.6 162.9,338.0 163.9,339.2 164.7,338.1 165.6,338.2 166.4,337.3 167.3,337.4 168.3,338.8 169.1,337.9 170.0,337.3 170.8,338.2 171.7,338.4 172.6,338.1 173.5,337.9 174.3,338.8 175.3,337.8 176.1,339.0 177.0,338.6 177.8,338.9 178.5,339.3 179.2,339.9 180.2,339.1 180.8,340.0 181.8,339.2 182.5,339.9 183.1,340.6 183.9,341.1 184.8,340.7 185.7,340.9 186.6,340.9 187.5,340.7 188.2,341.8 189.1,341.5 190.1,341.1 190.7,342.2 191.6,342.4 192.6,341.9 193.4,342.4 194.3,341.4 195.0,342.6 195.9,342.0 196.8,341.5 197.6,342.8 198.4,342.6 199.2,343.1 200.1,341.9 200.9,343.6 201.8,342.4 202.6,342.2 203.5,342.1 204.3,342.6 205.1,342.5 205.8,343.2 206.5,343.9 207.3,342.6 208.1,342.9 209.0,343.2 209.8,343.5 210.3,344.6 210.9,345.3 211.9,345.1 212.9,345.2 213.7,345.6 214.4,346.2 215.4,346.2 216.2,346.5 216.5,348.0 217.5,347.6 218.6,347.3 219.0,348.4 219.9,348.1 220.9,348.1 221.2,349.3 222.1,349.3 222.8,350.0 223.7,350.1 224.7,349.5 225.5,349.9 226.2,350.8 227.2,350.5 228.1,350.1 228.9,350.3 229.7,351.3 230.6,351.2 231.5,351.1 232.4,350.3 233.3,351.0 234.1,351.1 235.0,351.5 235.9,351.6 236.7,351.7 237.6,351.4 238.4,350.8 239.3,351.0 240.2,351.7 241.0,351.1 241.9,351.0 242.8,351.8 243.6,352.0 244.5,351.0 245.4,351.3 246.2,351.8 247.1,350.4 247.9,350.6 248.8,351.3 249.6,350.3 250.5,350.4 251.5,351.4 252.2,350.2 253.1,349.7 254.0,350.3 254.8,349.5 255.7,349.7 256.7,350.8 257.6,350.5 258.1,349.1 258.9,349.0 259.5,348.4 260.4,348.4 261.5,349.2 262.3,349.2 262.9,348.4 263.2,347.2 264.2,347.7 265.0,347.7 265.4,346.5 266.3,347.0 266.8,347.7 267.8,347.6 268.1,348.7 269.4,348.1 270.1,348.7 270.0,349.9 270.6,350.3 271.1,351.0 272.4,350.8 271.9,352.2 273.5,352.1 273.3,353.3 274.3,353.6 274.6,354.5 274.6,355.8 275.7,355.9 276.4,356.2 277.6,355.4 277.8,357.0 278.5,357.3 279.3,357.8 280.4,356.2 281.2,356.7 282.1,356.5 283.0,357.6 283.8,357.7 284.7,357.0 285.6,356.5 286.5,356.2 287.3,357.7 288.2,357.9 289.1,357.6 290.0,357.7 290.9,356.8 291.7,356.5 292.6,356.5 293.5,357.5 294.4,356.6 295.2,358.1 296.1,356.9 297.0,357.8 297.8,357.6 298.7,357.2 299.6,357.7 300.5,356.7 301.4,358.1 302.3,357.0 303.1,357.9 304.1,357.0 304.9,357.9 305.8,358.2 306.7,358.4 307.6,357.2 308.5,357.9 309.4,357.8 310.3,357.8 311.1,358.7 312.0,357.5 312.9,358.6 313.8,358.6 314.7,358.1 315.6,357.6 316.4,358.7 317.3,359.0 318.3,357.8 319.1,357.8 320.0,358.0 320.9,358.4 321.8,358.5 322.6,359.1 323.6,358.1 324.4,359.5 325.3,358.8 326.2,358.4 327.1,358.0 327.9,359.1 328.9,358.4 329.7,358.9 330.5,359.9 331.5,358.6 332.4,359.0 333.2,359.8 334.2,358.4 335.0,359.6"/>
</svg></body></html>
